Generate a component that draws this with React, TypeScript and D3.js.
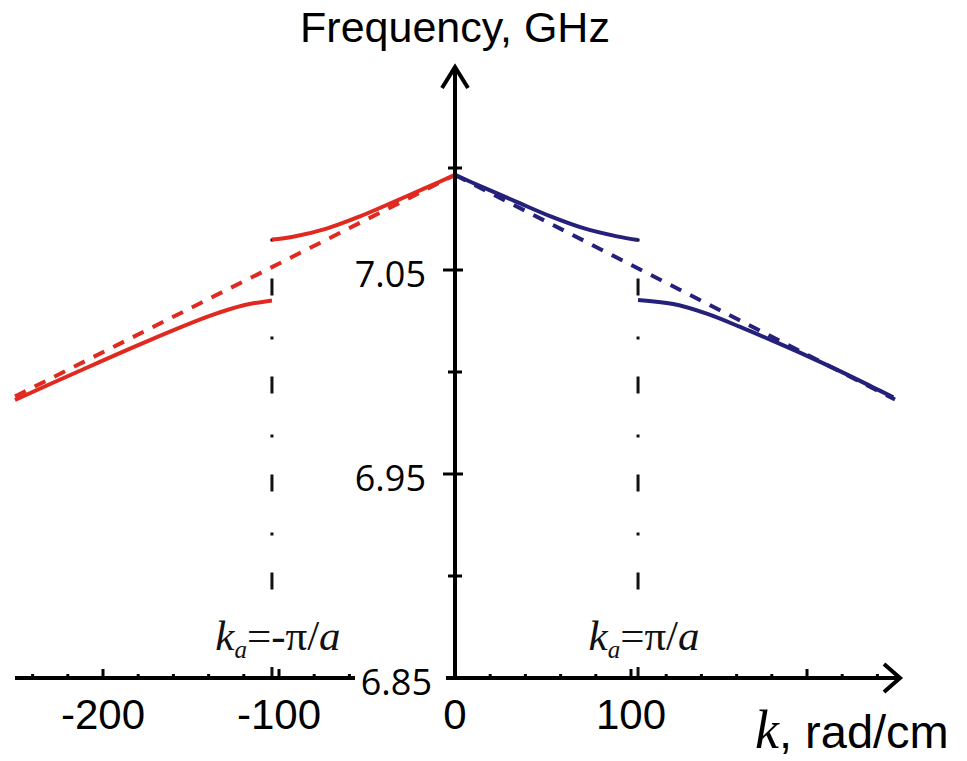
import React from "react";
import * as d3 from "d3";

// ---- data ----
const K_A = 104; // rad/cm, Brillouin zone boundary marker
const yTickMajor = [7.05, 6.95, 6.85];
const yTickMinor = [7.1, 7.0, 6.9];
const xTickLabels = [-200, -100, 0, 100];

const redDashedK = [-250, 0];
const redDashedF = [6.988, 7.0966];
const blueDashedK = [0, 250];
const blueDashedF = [7.0966, 6.9865];

const redUpperK = [-104, -92, -73, -54, -35, -16, 0];
const redUpperF = [7.0649, 7.0663, 7.0703, 7.0763, 7.0833, 7.0905, 7.0966];
const redLowerK = [-250, -215, -177, -139, -120, -104];
const redLowerF = [6.9863, 6.9999, 7.0143, 7.0276, 7.0327, 7.0351];
const blueUpperK = [0, 16, 35, 54, 73, 92, 104];
const blueUpperF = [7.0966, 7.0905, 7.0834, 7.0764, 7.0705, 7.0665, 7.0647];
const blueLowerK = [104, 124, 143, 162, 181, 200, 219, 238, 249];
const blueLowerF = [7.0353, 7.0333, 7.0286, 7.0221, 7.0151, 7.0079, 7.0003, 6.9923, 6.9876];

const RED = "#e0291f";
const BLUE = "#25217a";
const SANS = "'Liberation Sans', Arial, sans-serif";
const SERIF = "'Liberation Serif', 'Times New Roman', serif";

const zip = (ks: number[], fs: number[]) => ks.map((k, i) => [k, fs[i]] as [number, number]);

export default function App() {
  const W = 967;
  const H = 761;
  const x = d3.scaleLinear().domain([-250, 250]).range([15, 895]);
  const y = d3.scaleLinear().domain([6.85, 7.1]).range([678, 168]);
  const x0 = x(0);
  const y0 = y(6.85);

  const line = d3
    .line<[number, number]>()
    .x((d) => x(d[0]))
    .y((d) => y(d[1]))
    .curve(d3.curveCatmullRom.alpha(0.5));
  const straight = d3
    .line<[number, number]>()
    .x((d) => x(d[0]))
    .y((d) => y(d[1]));

  const xTicks = x.ticks(20).filter((t) => t !== 0 && Math.abs(t) < 250);
  const xEnd = 900;
  const yTop = 67;

  const vTop = y(7.0649) - 1;
  const vBottom = 604;

  return (
    <svg
      width={W}
      height={H}
      style={{ position: "absolute", left: 0, top: 0, background: "#fff" }}
    >
      <rect x={0} y={0} width={W} height={H} fill="#fff" />

      {/* vertical dash-dot lines at ±ka */}
      {[-K_A, K_A].map((k) => (
        <g key={k}>
          <line
            x1={x(k)}
            x2={x(k)}
            y1={vTop}
            y2={vBottom}
            stroke="#111"
            strokeWidth={3}
            strokeDasharray="3 37 17 41"
          />
          <line x1={x(k)} x2={x(k)} y1={y0 - 11} y2={y0} stroke="#111" strokeWidth={3} />
        </g>
      ))}

      {/* dashed approximations */}
      <path
        d={straight(zip(redDashedK, redDashedF)) || ""}
        fill="none"
        stroke={RED}
        strokeWidth={4}
        strokeDasharray="12 10"
      />
      <path
        d={straight(zip(blueDashedK, blueDashedF)) || ""}
        fill="none"
        stroke={BLUE}
        strokeWidth={4}
        strokeDasharray="12 10"
      />

      {/* solid branches */}
      <path d={line(zip(redUpperK, redUpperF)) || ""} fill="none" stroke={RED} strokeWidth={4} />
      <path d={line(zip(redLowerK, redLowerF)) || ""} fill="none" stroke={RED} strokeWidth={4} />
      <path d={line(zip(blueUpperK, blueUpperF)) || ""} fill="none" stroke={BLUE} strokeWidth={4} />
      <path d={line(zip(blueLowerK, blueLowerF)) || ""} fill="none" stroke={BLUE} strokeWidth={4} />

      {/* x axis */}
      <line x1={x(-250)} x2={xEnd} y1={y0} y2={y0} stroke="#000" strokeWidth={4} />
      <polyline
        points={`${xEnd - 16},${y0 - 14} ${xEnd},${y0} ${xEnd - 16},${y0 + 14}`}
        fill="none"
        stroke="#000"
        strokeWidth={4}
      />
      {xTicks.map((t) => (
        <line
          key={t}
          x1={x(t)}
          x2={x(t)}
          y1={y0}
          y2={y0 - (t % 50 === 0 ? 9 : 4)}
          stroke="#000"
          strokeWidth={3}
        />
      ))}
      {xTickLabels.map((t) => (
        <text
          key={t}
          x={x(t)}
          y={729}
          textAnchor="middle"
          fontFamily={SANS}
          fontSize={42}
          fill="#000"
        >
          {t}
        </text>
      ))}

      {/* y axis */}
      <line x1={x0} x2={x0} y1={y0} y2={yTop} stroke="#000" strokeWidth={4} />
      <polyline
        points={`${x0 - 13},${yTop + 21} ${x0},${yTop} ${x0 + 13},${yTop + 21}`}
        fill="none"
        stroke="#000"
        strokeWidth={4}
      />
      {yTickMinor.map((t) => (
        <line key={t} x1={x0 - 7} x2={x0 + 7} y1={y(t)} y2={y(t)} stroke="#000" strokeWidth={3} />
      ))}
      {yTickMajor
        .filter((t) => t !== 6.85)
        .map((t) => (
          <line key={t} x1={x0 - 12} x2={x0 + 8} y1={y(t)} y2={y(t)} stroke="#000" strokeWidth={3} />
        ))}

      {/* origin label with white backing over the axis */}
      <rect x={355} y={664} width={91} height={34} fill="#fff" />
      {yTickMajor.map((t) => (
        <text
          key={t}
          x={t === 6.85 ? 432 : 426}
          y={y(t) + 17}
          textAnchor="end"
          fontFamily="'Open Sans', sans-serif"
          fontSize={36}
          fill="#000"
        >
          {t.toFixed(2)}
        </text>
      ))}

      {/* k_a labels */}
      {[-1, 1].map((s) => (
        <text
          key={s}
          x={x(s * K_A) + 6}
          y={650}
          textAnchor="middle"
          fontFamily={SERIF}
          fontSize={43}
          fill="#111"
        >
          <tspan fontStyle="italic">k</tspan>
          <tspan fontStyle="italic" fontSize={25} dy={8}>
            a
          </tspan>
          <tspan dy={-8}>{s < 0 ? "=-π/" : "=π/"}</tspan>
          <tspan fontStyle="italic">a</tspan>
        </text>
      ))}

      {/* axis titles */}
      <text x={455} y={42} textAnchor="middle" fontFamily={SANS} fontSize={43} fill="#000">
        Frequency, GHz
      </text>
      <text x={755} y={748} fill="#000">
        <tspan fontFamily={SERIF} fontStyle="italic" fontSize={54}>
          k
        </tspan>
        <tspan fontFamily={SANS} fontSize={47}>
          , rad/cm
        </tspan>
      </text>
    </svg>
  );
}
